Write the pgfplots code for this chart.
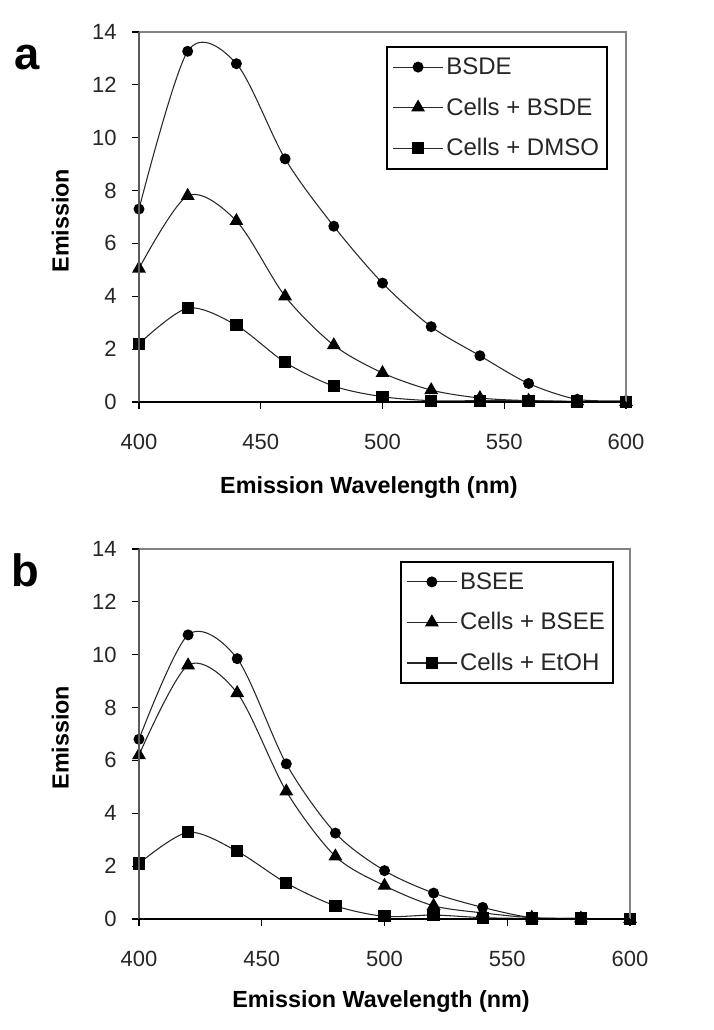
\documentclass[border=0pt]{standalone}
\usepackage{fontspec}
\setmainfont{Liberation Sans}
\usepackage{pgfplots}
\pgfplotsset{compat=1.18}
\definecolor{frame}{RGB}{130,130,130}
\definecolor{ln}{RGB}{40,40,40}
\pgfplotsset{
  panel/.style={
    scale only axis,
    height=277.5pt,
    xmin=400, xmax=600, ymin=0, ymax=14,
    xtick={400,450,...,600}, ytick={0,2,...,14},
    tick align=outside, tick pos=left,
    major tick length=5.25pt,
    tick style={black, line width=0.9pt},
    axis line style={draw=none},
    /pgf/number format/assume math mode=true,
    ticklabel style={font=\fontsize{16.5}{18}\selectfont, text=black!85},
    yticklabel style={xshift=-8pt},
    xticklabel style={yshift=-15pt},
    ylabel={Emission},
    ylabel style={font=\bfseries\fontsize{17.5}{20}\selectfont, at={(rel axis cs:0,0.49)}, yshift=59pt, anchor=center},
    xlabel={Emission Wavelength (nm)},
    xlabel style={font=\bfseries\fontsize{17.5}{20}\selectfont, anchor=center},
    legend cell align=left,
    legend style={draw=black, line width=1.5pt, anchor=north east,
      font=\fontsize{18}{20}\selectfont, inner xsep=4pt, inner ysep=6pt,
      row sep=12pt, text=black!85},
    legend image code/.code={
      \draw[#1, mark=none] (0pt,0pt) -- (37.5pt,0pt);
      \draw[#1, only marks] plot coordinates {(18.75pt,0pt)};
    },
    every axis plot/.append style={ln, line width=0.8pt, smooth, tension=0.5,
      mark options={fill=black, draw=black, solid}},
    after end axis/.code={
      \draw[frame, line width=1pt] (rel axis cs:0,1) -- (rel axis cs:1,1) -- (rel axis cs:1,0);
      \draw[frame!70!black, line width=1.2pt] (rel axis cs:0,0) -- (rel axis cs:0,1);
      \draw[black, line width=1.5pt] (rel axis cs:0,0) -- (rel axis cs:1,0);
    },
  }
}
\begin{document}
\begin{tikzpicture}
\useasboundingbox (0,0) rectangle (534.75pt,772.5pt);
\node[font=\bfseries\fontsize{34}{36}\selectfont, anchor=base] at (20.5pt,720pt) {a};
\node[font=\bfseries\fontsize{34}{36}\selectfont, anchor=base] at (19pt,332.5pt) {b};
\begin{axis}[panel, width=365.25pt, at={(104.25pt,471pt)}, anchor=south west,
  xlabel style={at={(rel axis cs:0.472,0)}, yshift=-64.5pt},
  legend style={at={(rel axis cs:0.963,0.962)}}]
\addplot[mark=*, mark size=3.7pt] coordinates {(400,7.3) (420,13.27) (440,12.8) (460,9.2) (480,6.65) (500,4.5) (520,2.85) (540,1.75) (560,0.7) (580,0.1) (600,0.05)};
\addlegendentry{BSDE}
\addplot[mark=triangle*, mark size=5.2pt] coordinates {(400,5.05) (420,7.8) (440,6.85) (460,4.0) (480,2.15) (500,1.1) (520,0.45) (540,0.15) (560,0.05) (580,0.02) (600,0.0)};
\addlegendentry{Cells + BSDE}
\addplot[mark=square*, mark size=4.2pt] coordinates {(400,2.2) (420,3.55) (440,2.9) (460,1.5) (480,0.6) (500,0.2) (520,0.05) (540,0.05) (560,0.05) (580,0.02) (600,0.0)};
\addlegendentry{Cells + DMSO}
\end{axis}
\begin{axis}[panel, width=368.25pt, at={(104.25pt,83.25pt)}, anchor=south west,
  xlabel style={at={(rel axis cs:0.493,0)}, yshift=-62.25pt},
  legend style={at={(rel axis cs:0.967,0.968)}}]
\addplot[mark=*, mark size=3.7pt] coordinates {(400,6.8) (420,10.75) (440,9.85) (460,5.87) (480,3.25) (500,1.83) (520,0.98) (540,0.44) (560,0.05) (580,0.02) (600,0.0)};
\addlegendentry{BSEE}
\addplot[mark=triangle*, mark size=5.2pt] coordinates {(400,6.2) (420,9.6) (440,8.55) (460,4.83) (480,2.37) (500,1.26) (520,0.5) (540,0.23) (560,0.05) (580,0.02) (600,0.0)};
\addlegendentry{Cells + BSEE}
\addplot[mark=square*, mark size=4.2pt] coordinates {(400,2.1) (420,3.28) (440,2.56) (460,1.36) (480,0.5) (500,0.1) (520,0.15) (540,0.05) (560,0.02) (580,0.02) (600,0.0)};
\addlegendentry{Cells + EtOH}
\end{axis}
\end{tikzpicture}
\end{document}
